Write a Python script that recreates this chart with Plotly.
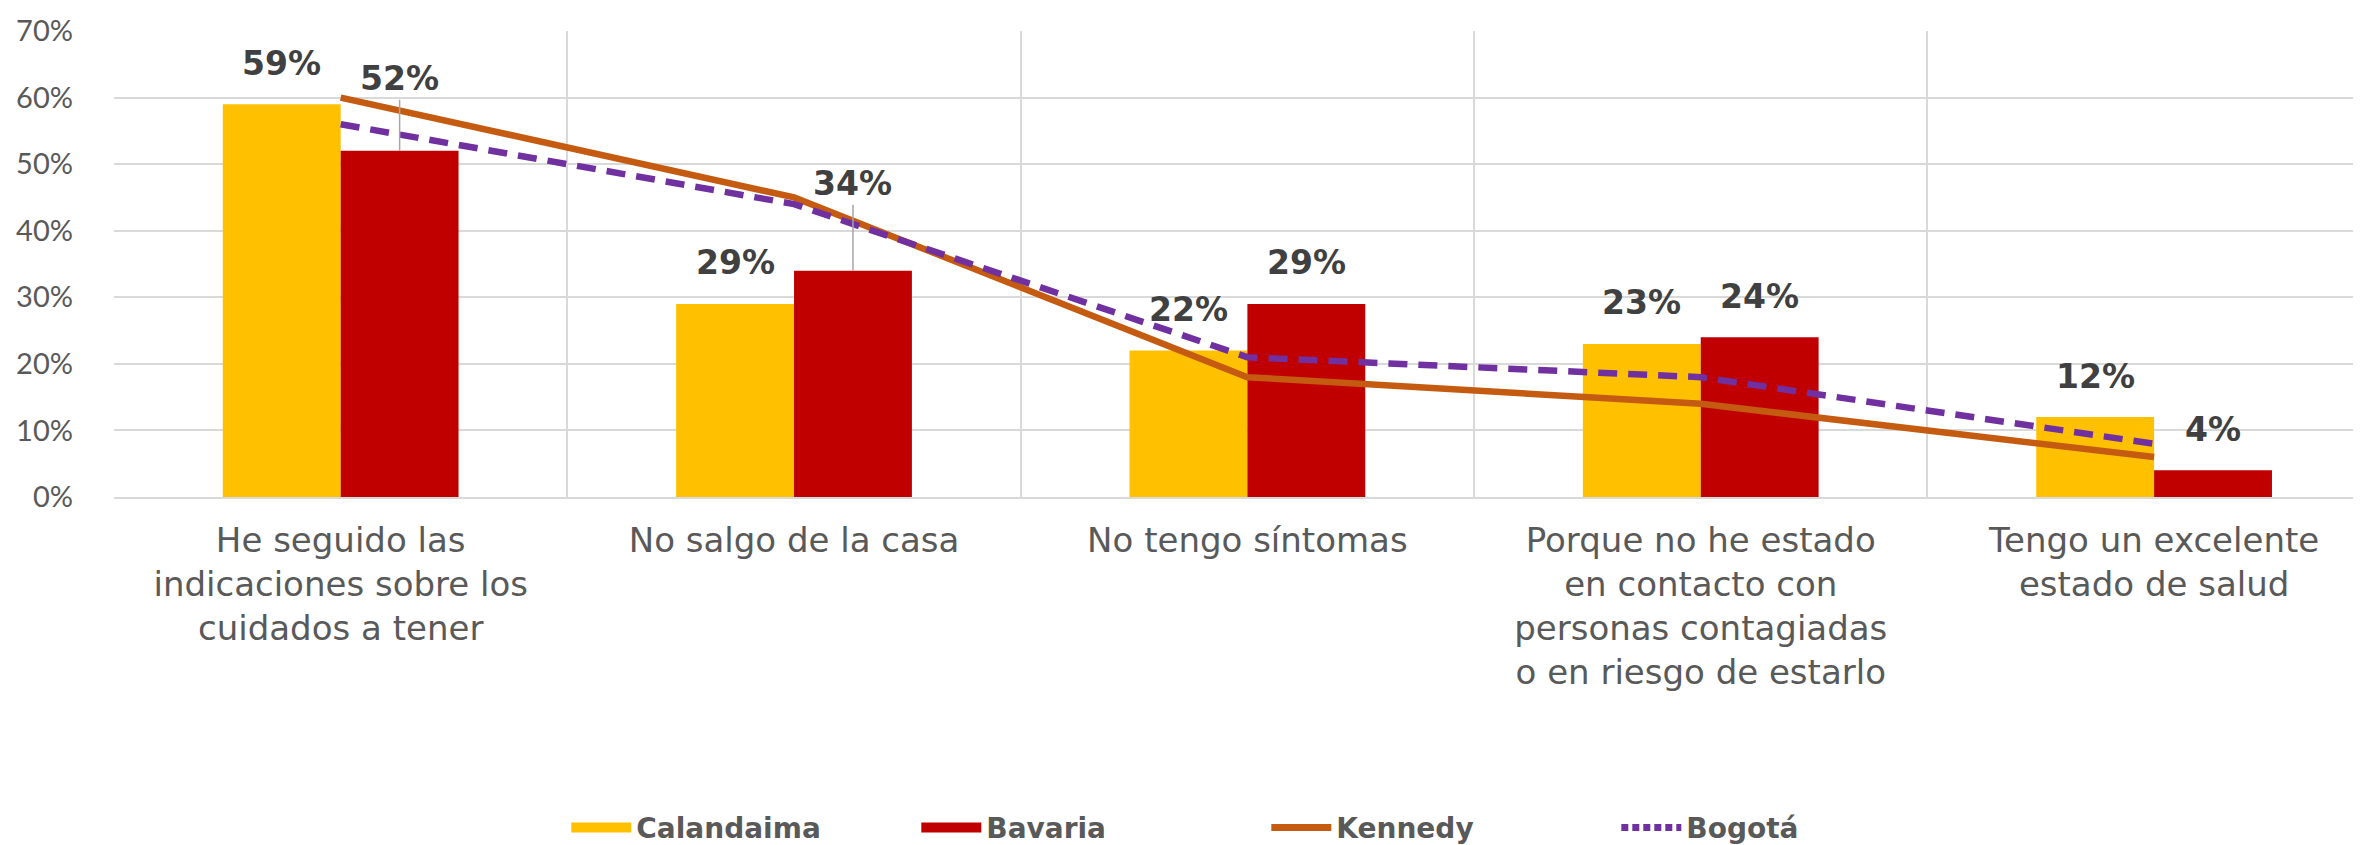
import plotly.graph_objects as go

# ---------------- data ----------------
categories = [
    "He seguido las<br>indicaciones sobre los<br>cuidados a tener",
    "No salgo de la casa",
    "No tengo síntomas",
    "Porque no he estado<br>en contacto con<br>personas contagiadas<br>o en riesgo de estarlo",
    "Tengo un excelente<br>estado de salud",
]
calandaima = [59, 29, 22, 23, 12]
bavaria = [52, 34, 29, 24, 4]
kennedy = [60, 45, 18, 14, 6]
bogota = [56, 44, 21, 18, 8]
y_ticks = [0, 10, 20, 30, 40, 50, 60, 70]
y_tick_labels = [f"{v}%" for v in y_ticks]

# ---------------- style ----------------
W, H = 2361, 845
M_L, M_R, M_T, M_B = 106, 0, 23, 354
X_RANGE = [-0.5, 4.474]
BARGAP = 0.48
FONT = "DejaVu Sans"
C_CAL = "#FFC000"
C_BAV = "#C00000"
C_KEN = "#C55A11"
C_BOG = "#7030A0"
GRID = "#D9D9D9"
TXT = "#595959"
LBL = "#404040"
LABEL_LIFT = 41
LEADER_LIFT = {("Bavaria", 0): 72, ("Bavaria", 1): 87}

fig = go.Figure()
fig.add_trace(go.Bar(name="Calandaima", x=categories, y=calandaima,
                     marker=dict(color=C_CAL, line=dict(width=0)), showlegend=False))
fig.add_trace(go.Bar(name="Bavaria", x=categories, y=bavaria,
                     marker=dict(color=C_BAV, line=dict(width=0)), showlegend=False))
fig.add_trace(go.Scatter(name="Kennedy", x=categories, y=kennedy, mode="lines",
                         line=dict(color=C_KEN, width=6.5), showlegend=False))
fig.add_trace(go.Scatter(name="Bogotá", x=categories, y=bogota, mode="lines",
                         line=dict(color=C_BOG, width=6.5, dash="19px,11px"), showlegend=False))

# legend entries
for name, col, w, dash in [("Calandaima", C_CAL, 20, "solid"), ("Bavaria", C_BAV, 20, "solid"),
                           ("Kennedy", C_KEN, 7, "solid"), ("Bogotá", C_BOG, 7, "7px,4px")]:
    fig.add_trace(go.Scatter(name=name, x=[None], y=[None], mode="lines",
                             line=dict(color=col, width=w, dash=dash), showlegend=True))

# value labels via annotations
plot_w = W - M_L - M_R
cat_px = plot_w / (X_RANGE[1] - X_RANGE[0])
half_bar = cat_px * (1 - BARGAP) / 4
for series_name, vals, sign in [("Calandaima", calandaima, -1), ("Bavaria", bavaria, 1)]:
    for i, (c, v) in enumerate(zip(categories, vals)):
        key = (series_name, i)
        if key in LEADER_LIFT:
            fig.add_annotation(x=c, y=v, xshift=sign * half_bar, text=f"<b>{v}%</b>",
                               showarrow=True, arrowhead=0, ax=0, ay=-LEADER_LIFT[key],
                               arrowcolor="#A6A6A6", arrowwidth=1.5, standoff=0,
                               font=dict(family=FONT, size=33, color=LBL))
        else:
            fig.add_annotation(x=c, y=v, xshift=sign * half_bar, yshift=LABEL_LIFT,
                               text=f"<b>{v}%</b>", showarrow=False,
                               font=dict(family=FONT, size=33, color=LBL))

fig.update_layout(
    width=W, height=H,
    margin=dict(l=M_L, r=M_R, t=M_T, b=M_B),
    paper_bgcolor="white", plot_bgcolor="white",
    barmode="group", bargap=BARGAP, bargroupgap=0,
    font=dict(family=FONT, color=TXT),
    legend=dict(orientation="h", x=0.511, xanchor="center", y=-0.71, yanchor="middle",
                font=dict(family=FONT, size=28, color=TXT, weight="bold"),
                itemwidth=60, traceorder="normal", entrywidth=275),
    xaxis=dict(type="category", categoryorder="array", categoryarray=categories,
               range=X_RANGE, tickson="boundaries", ticks="", showgrid=True,
               gridcolor=GRID, gridwidth=1.5, showline=True, linecolor=GRID, linewidth=1.5,
               tickfont=dict(family=FONT, size=34, color=TXT), ticklabelstandoff=12),
    yaxis=dict(range=[0, 70], tickvals=y_ticks, ticktext=y_tick_labels, showgrid=True,
               gridcolor=GRID, gridwidth=1.5, zeroline=False, showline=False,
               tickfont=dict(family="Lato", size=29, color=TXT), ticklabelstandoff=40),
)

fig.write_html("out.html")
